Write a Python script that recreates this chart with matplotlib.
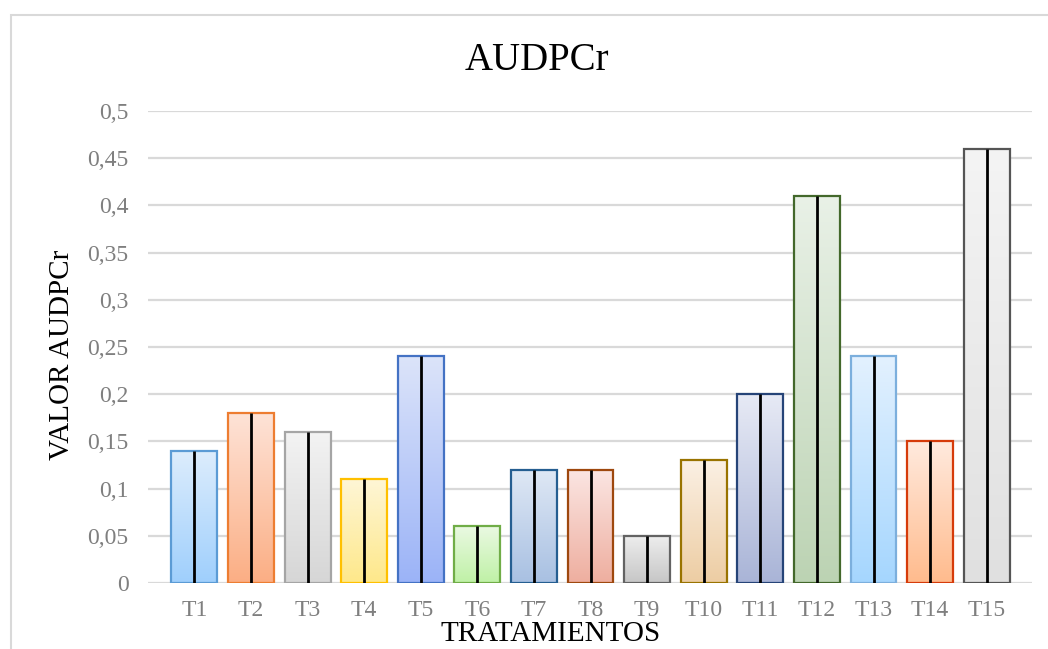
import numpy as np
import matplotlib.pyplot as plt
from matplotlib.colors import LinearSegmentedColormap
from matplotlib.patches import Rectangle

plt.rcParams['font.family'] = ['Liberation Serif', 'DejaVu Serif']

tratamientos = ['T1', 'T2', 'T3', 'T4', 'T5', 'T6', 'T7', 'T8', 'T9', 'T10',
                'T11', 'T12', 'T13', 'T14', 'T15']
audpcr = [0.14, 0.18, 0.16, 0.11, 0.24, 0.06, 0.12, 0.12, 0.05, 0.13,
          0.20, 0.41, 0.24, 0.15, 0.46]

# edge colour, gradient top, gradient bottom for each bar
bordes = ['#5B9BD5', '#ED7D31', '#A5A5A5', '#FFC000', '#4472C4', '#70AD47',
          '#255E91', '#9E480E', '#636363', '#997300', '#264478', '#43682B',
          '#7CAFDD', '#D63B0A', '#555555']
arriba = ['#DDEDFD', '#FEE3D7', '#F3F3F3', '#FEF6D6', '#DCE4FA', '#EAF9E2',
          '#DFE8F5', '#FBE6E3', '#EEEEEE', '#FBF0E4', '#E7EAF5', '#E9F1E7',
          '#E3F1FE', '#FFEADE', '#F4F4F4']
abajo = ['#9FCFFC', '#FBAE84', '#D6D6D6', '#FEE88A', '#9BB3F7', '#BFF1A6',
         '#A8C0E2', '#EEAE9F', '#C6C6C6', '#EDCDA3', '#A9B4D7', '#BCD3B3',
         '#A5D6FE', '#FFBB8D', '#E0E0E0']

fig = plt.figure(figsize=(10.48, 6.49), dpi=100)
ax = fig.add_axes([148 / 1048, 1 - 583 / 649, 884 / 1048, 472 / 649])

# outer frame of the chart area
fig.patches.append(Rectangle((11 / 1048, -0.1), 1.2, 1.1 - 15 / 649,
                             transform=fig.transFigure, fill=False,
                             edgecolor='#D9D9D9', linewidth=1.5))

x = np.arange(len(tratamientos))
barras = ax.bar(x, audpcr, width=0.81, color='none', zorder=3)

grad = np.linspace(0, 1, 256).reshape(-1, 1)
for i, b in enumerate(barras):
    cmap = LinearSegmentedColormap.from_list('g%d' % i, [arriba[i], abajo[i]])
    x0, w, h = b.get_x(), b.get_width(), b.get_height()
    im = ax.imshow(grad, cmap=cmap, aspect='auto', zorder=2,
                   extent=(x0, x0 + w, 0, h), interpolation='bilinear')
    im.set_clip_path(b)
    b.set_edgecolor(bordes[i])
    b.set_linewidth(1.6)

# black line through each bar
ax.vlines(x, -0.006, audpcr, colors='black', linewidth=2, zorder=4)

ax.set_xlim(-0.82, 14.8)
ax.set_ylim(0, 0.5)
ax.set_yticks(np.arange(0, 0.51, 0.05))
ax.set_yticklabels(['0', '0,05', '0,1', '0,15', '0,2', '0,25', '0,3', '0,35',
                    '0,4', '0,45', '0,5'])
ax.set_xticks(x)
ax.set_xticklabels(tratamientos)
ax.tick_params(axis='both', length=0, labelsize=17, labelcolor='#7F7F7F')
ax.tick_params(axis='x', pad=12)
ax.tick_params(axis='y', pad=14)
ax.grid(axis='y', color='#D9D9D9', linewidth=1.6, zorder=0)
ax.set_axisbelow(True)
for s in ax.spines.values():
    s.set_visible(False)

fig.text(537 / 1048, 1 - 60 / 649, 'AUDPCr', fontsize=28,
         ha='center', va='center')
ax.set_ylabel('VALOR AUDPCr', fontsize=21)
ax.yaxis.set_label_coords(-0.083, 0.483)
ax.set_xlabel('TRATAMIENTOS', fontsize=21)
ax.xaxis.set_label_coords(0.455, -0.08)

fig.savefig('out.png', dpi=100)
